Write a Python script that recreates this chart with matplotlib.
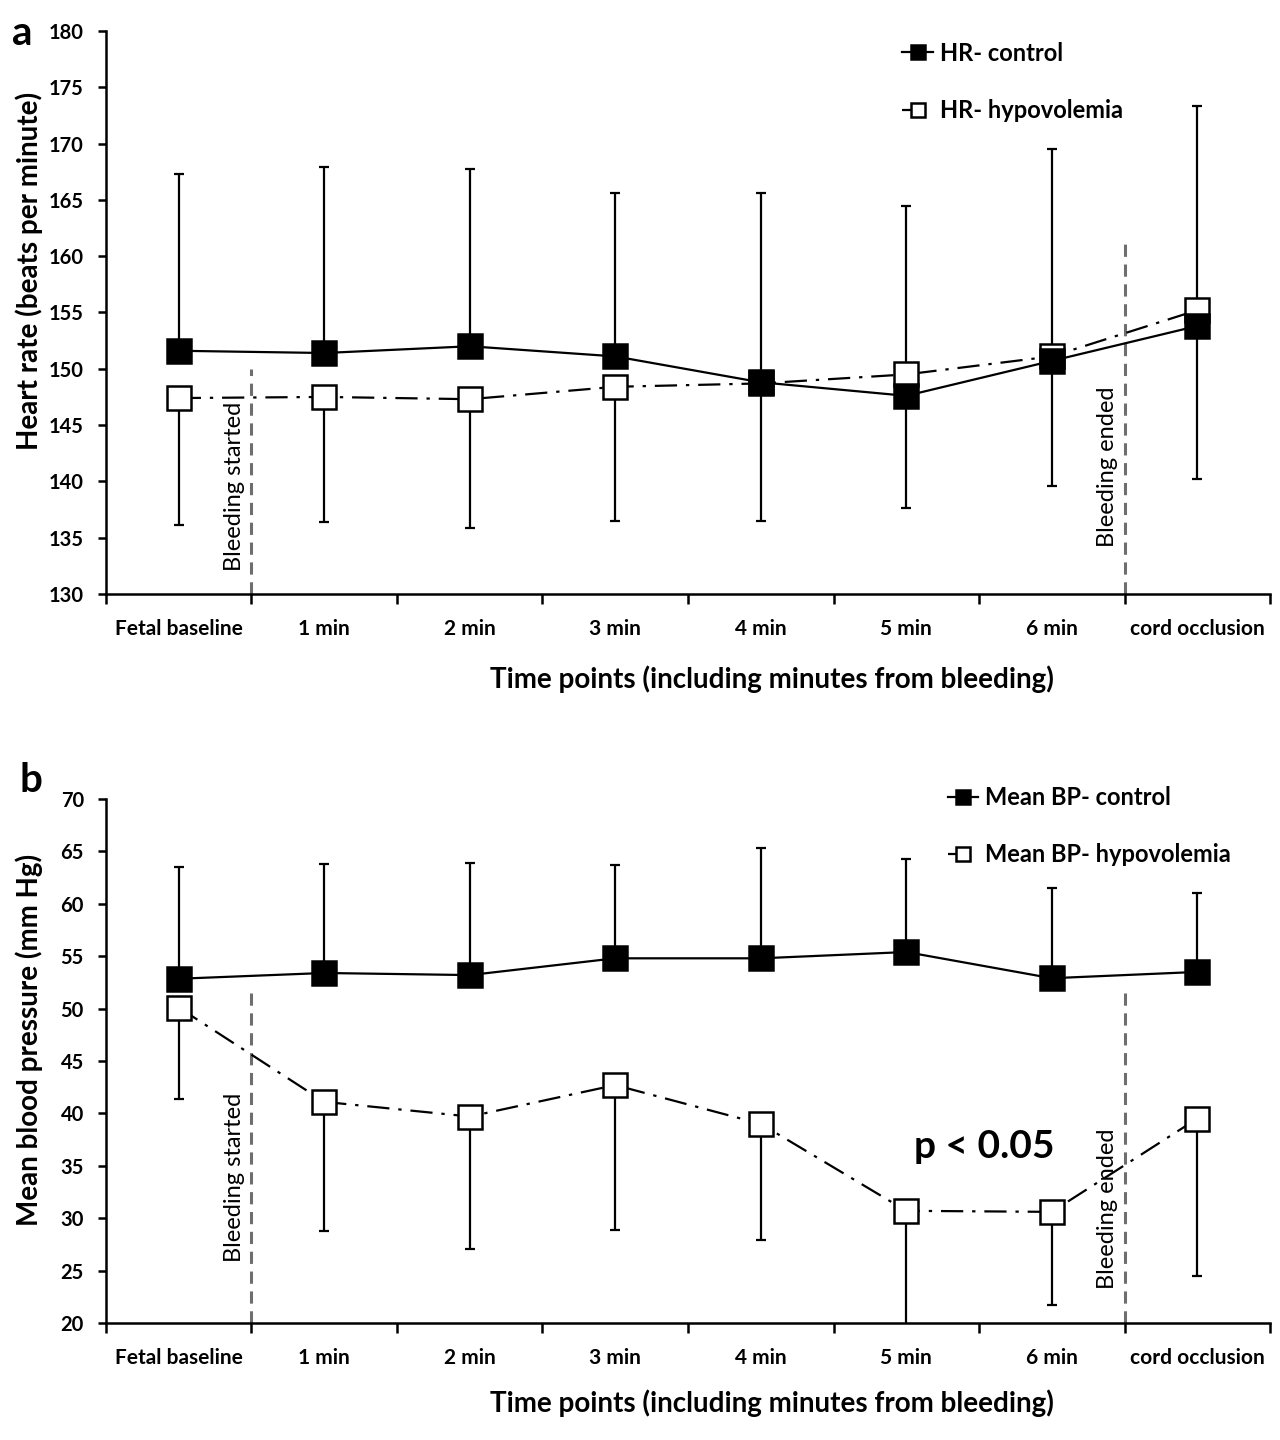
import matplotlib
matplotlib.use("Agg")
import matplotlib.pyplot as plt

plt.rcParams['font.family'] = ['Lato', 'DejaVu Sans']

categories = ["Fetal baseline", "1 min", "2 min", "3 min", "4 min", "5 min", "6 min", "cord occlusion"]

hr_control = [151.6, 151.4, 152.0, 151.1, 148.8, 147.6, 150.7, 153.8]
hr_control_upper = [167.3, 167.9, 167.7, 165.6, 165.6, 164.5, 169.5, 173.3]
hr_hypo = [147.4, 147.5, 147.3, 148.4, 148.7, 149.5, 151.1, 155.2]
hr_hypo_lower = [136.1, 136.4, 135.9, 136.5, 136.5, 137.6, 139.6, 140.2]

bp_control = [52.85, 53.4, 53.2, 54.8, 54.8, 55.4, 52.9, 53.5]
bp_control_upper = [63.5, 63.8, 63.9, 63.7, 65.3, 64.3, 61.5, 61.0]
bp_hypo = [50.1, 41.1, 39.7, 42.7, 39.0, 30.7, 30.6, 39.5]
bp_hypo_lower = [41.4, 28.8, 27.1, 28.9, 27.9, 17.0, 21.7, 24.5]

fig = plt.figure(figsize=(12.8, 14.4), dpi=100)
ax1 = fig.add_axes([0.0828, 0.5875, 0.9094, 0.391])
ax2 = fig.add_axes([0.0828, 0.0813, 0.9094, 0.3638])

dashdot = (0, (10, 4, 1.5, 4))
grey = '#6e6e6e'


def panel(ax, ctrl, ctrl_up, hypo, hypo_lo, ylim, yticks, ylabel, labels,
          leg_anchor, bs_top, be_top, bs_y, be_y, letter, letter_xy, ylab_y, xlab_y):
    x = [i + 0.5 for i in range(len(categories))]
    ax.errorbar(x, ctrl, yerr=[[0] * len(ctrl), [u - c for u, c in zip(ctrl_up, ctrl)]],
                fmt='none', ecolor='black', elinewidth=1.6, capsize=3.5, capthick=1.6, zorder=2)
    ax.errorbar(x, hypo, yerr=[[h - l for h, l in zip(hypo, hypo_lo)], [0] * len(hypo)],
                fmt='none', ecolor='black', elinewidth=1.6, capsize=3.5, capthick=1.6, zorder=2)
    lh, = ax.plot(x, hypo, linestyle=dashdot, color='black', lw=1.6, marker='s', ms=17,
                  mfc='white', mec='black', mew=1.8, zorder=3, label=labels[1])
    lc, = ax.plot(x, ctrl, linestyle='-', color='black', lw=1.6, marker='s', ms=17,
                  mfc='black', mec='black', mew=1.8, zorder=4, label=labels[0])
    ax.plot([1, 1], [ylim[0], bs_top], color=grey, lw=2.2, linestyle=(0, (4, 2.5)), zorder=1)
    ax.plot([7, 7], [ylim[0], be_top], color=grey, lw=2.2, linestyle=(0, (4, 2.5)), zorder=1)
    ax.text(0.955, bs_y, "Bleeding started", rotation=90, ha='right', va='bottom', fontsize=17)
    ax.text(6.955, be_y, "Bleeding ended", rotation=90, ha='right', va='bottom', fontsize=17)

    ax.set_xlim(0, 8)
    ax.set_ylim(*ylim)
    ax.set_yticks(yticks)
    ax.set_yticklabels([str(v) for v in yticks], fontweight='bold', fontsize=14.5)
    ax.set_xticks(range(0, 9))
    ax.set_xticklabels([])
    ax.set_xticks(x, minor=True)
    ax.set_xticklabels(categories, minor=True, fontweight='bold', fontsize=15)
    ax.tick_params(axis='x', which='minor', length=0, pad=18)
    ax.tick_params(axis='x', which='major', length=7, width=1.8, direction='out')
    ax.tick_params(axis='y', length=6, width=1.8, direction='out', pad=10)
    for s in ['top', 'right']:
        ax.spines[s].set_visible(False)
    for s in ['left', 'bottom']:
        ax.spines[s].set_linewidth(1.8)
    ax.set_ylabel(ylabel, fontweight='bold', fontsize=20)
    ax.yaxis.label.set_va('center')
    ax.yaxis.set_label_coords(-0.066, ylab_y)
    ax.set_xlabel("Time points (including minutes from bleeding)", fontweight='bold', fontsize=20)
    ax.xaxis.label.set_va('center')
    ax.xaxis.set_label_coords(0.572, xlab_y)
    ax.legend(handles=[lc, lh], loc='upper left', bbox_to_anchor=leg_anchor,
              frameon=False, handlelength=1.3, handletextpad=0.3, labelspacing=1.45,
              markerscale=0.62, prop={'weight': 'bold', 'size': 17}, borderaxespad=0)
    fig.text(letter_xy[0], letter_xy[1], letter, fontweight='bold', fontsize=29,
             ha='left', va='center')


panel(ax1, hr_control, hr_control_upper, hr_hypo, hr_hypo_lower, (130, 180),
      list(range(130, 181, 5)), "Heart rate (beats per minute)",
      ["HR- control", "HR- hypovolemia"], (0.676, 0.998), 150, 161.5, 132.0, 134.2,
      "a", (0.009, 0.977), 0.574, -0.151)
panel(ax2, bp_control, bp_control_upper, bp_hypo, bp_hypo_lower, (20, 70),
      list(range(20, 71, 5)), "Mean blood pressure (mm Hg)",
      ["Mean BP- control", "Mean BP- hypovolemia"], (0.715, 1.043), 51.5, 51.8, 25.8, 23.2,
      "b", (0.015, 0.458), 0.54, -0.153)

ax2.text(5.55, 36.8, "p < 0.05", fontweight='bold', fontsize=28, ha='left', va='center')

fig.savefig("out.png", dpi=100)
